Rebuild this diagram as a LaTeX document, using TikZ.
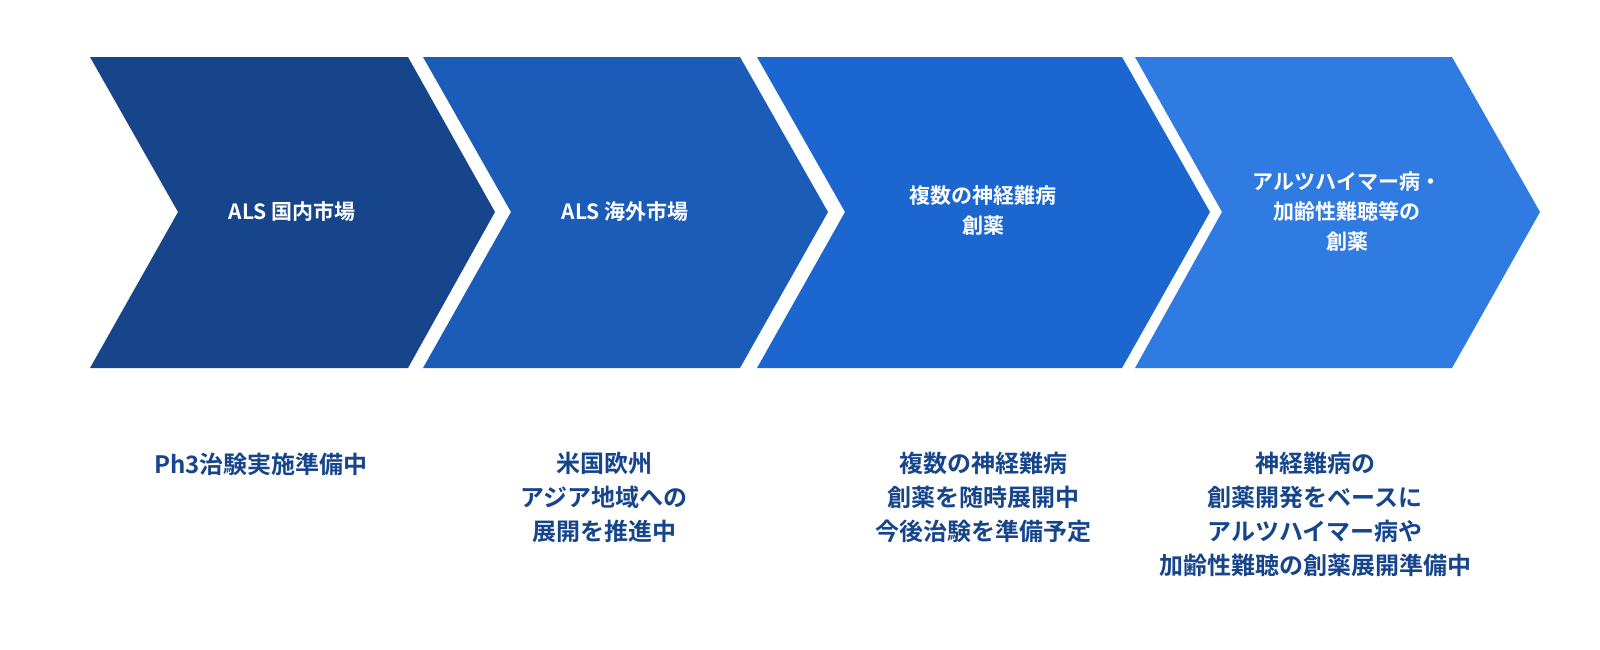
\documentclass[tikz,border=0pt]{standalone}
\usepackage{fontspec}
\setmainfont{Noto Sans CJK JP}[BoldFont={Noto Sans CJK JP Bold}]
\begin{document}
\begin{tikzpicture}[x=1pt,y=-1pt,
  lab/.style={text=white,font=\fontsize{21}{30}\selectfont\bfseries,align=center},
  sub/.style={text=c1,font=\fontsize{24}{34}\selectfont\bfseries,align=center,anchor=north}]
\definecolor{c1}{HTML}{16458C}
\definecolor{c2}{HTML}{1A5CB8}
\definecolor{c3}{HTML}{1C67CF}
\definecolor{c4}{HTML}{2F7BE2}
\useasboundingbox (0,0) rectangle (1600,649);
\fill[c1] (90,57) -- (408,57) -- (495,212) -- (408,368) -- (90,368) -- (178,212) -- cycle;
\fill[c2] (423,57) -- (740,57) -- (828,212) -- (740,368) -- (423,368) -- (511,212) -- cycle;
\fill[c3] (757,57) -- (1122,57) -- (1210,212) -- (1122,368) -- (757,368) -- (845,212) -- cycle;
\fill[c4] (1135,57) -- (1452,57) -- (1540,212) -- (1452,368) -- (1135,368) -- (1222,212) -- cycle;
\node[lab] (t1) at (292,212) {ALS 国内市場};
\node[lab] (t2) at (625,212) {ALS 海外市場};
\node[lab] (t3) at (983,211) {複数の神経難病\\創薬};
\node[lab] (t4) at (1347,212) {アルツハイマー病・\\加齢性難聴等の\\創薬};
\node[sub] (b1) at (261,449) {Ph3治験実施準備中};
\node[sub] (b2) at (604,449) {米国欧州\\アジア地域への\\展開を推進中};
\node[sub] (b3) at (983,449) {複数の神経難病\\創薬を随時展開中\\今後治験を準備予定};
\node[sub] (b4) at (1315,449) {神経難病の\\創薬開発をベースに\\アルツハイマー病や\\加齢性難聴の創薬展開準備中};
\end{tikzpicture}
\end{document}
